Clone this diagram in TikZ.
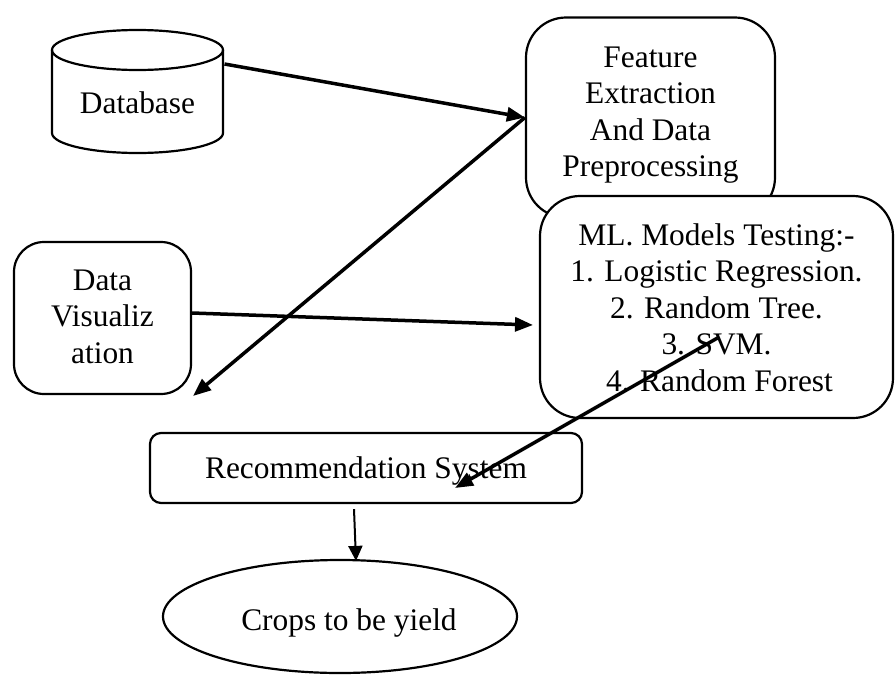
\documentclass[tikz,border=0pt]{standalone}
\usepackage{fontspec}
\setmainfont{Liberation Serif}
\usetikzlibrary{arrows.meta,shapes.geometric,calc}
\begin{document}
\begin{tikzpicture}[x=1pt,y=-1pt,
  txt/.style={font=\fontsize{31.4}{36.5}\selectfont, align=center, inner sep=0pt},
  box/.style={txt, draw, line width=2.2pt, fill=white},
  arr/.style={line width=3.5pt, -{Triangle[length=18pt,width=14pt]}},
  thinarr/.style={line width=2pt, -{Triangle[length=15pt,width=14pt]}}]
\useasboundingbox (0,0) rectangle (895,675);
\fill[white] (0,0) rectangle (895,675);

% Database cylinder
\node[txt, text height=25pt, text depth=5pt] (db) at (137.5,103) {Database};
\draw[line width=2.2pt] ($(db)+(-85.5,-53)$) -- ($(db)+(-85.5,30)$)
  arc[start angle=180, end angle=360, x radius=85.5pt, y radius=20pt]
  -- ($(db)+(85.5,-53)$);
\draw[line width=2.2pt] ($(db)+(0,-53)$) ellipse [x radius=85.5pt, y radius=20pt];

% Boxes
\node[box, rounded corners=40pt, minimum width=249pt, minimum height=200pt,
  text height=123pt, text depth=5pt] (feat) at (650.5,117.5)
  {Feature\\Extraction\\And Data\\Preprocessing};
\node[box, rounded corners=40pt, minimum width=353pt, minimum height=222pt,
  text height=173pt, text depth=5pt] (ml) at (716.5,307)
  {ML. Models Testing:-\\1. Logistic Regression.\\2. Random Tree.\\3. SVM.\\4. Random Forest\hspace*{-6pt}};
\node[box, rounded corners=30pt, minimum width=177pt, minimum height=152pt,
  text height=95pt, text depth=5pt] (dv) at (102.5,318)
  {Data\\Visualiz\\ation};
\node[box, rounded corners=11pt, minimum width=432pt, minimum height=70pt,
  text height=25pt, text depth=5pt] (rec) at (366,468)
  {Recommendation System};
\node[box, ellipse, minimum width=354pt, minimum height=113pt,
  text height=27pt, text depth=0pt] (crops) at (340,616.5)
  {\hspace*{18pt}Crops to be yield};

% Connector coordinates
\coordinate (a1s) at ($(db)+(87,-39)$);
\coordinate (a2e) at (193,396);
\coordinate (a3e) at (533,325);
\coordinate (a4s) at ($(ml.center)+(1,31)$);
\coordinate (a4e) at (455,488);
\coordinate (a5s) at ($(rec.south)+(-12,5)$);
\coordinate (a5e) at ($(crops.north)+(16,2)$);

% Connectors
\draw[arr] (a1s) -- (feat.west);
\draw[arr] (feat.west) -- (a2e);
\draw[arr] ([yshift=5pt]dv.east) -- (a3e);
\draw[arr] (a4s) -- (a4e);
\draw[thinarr] (a5s) -- (a5e);
\end{tikzpicture}
\end{document}
